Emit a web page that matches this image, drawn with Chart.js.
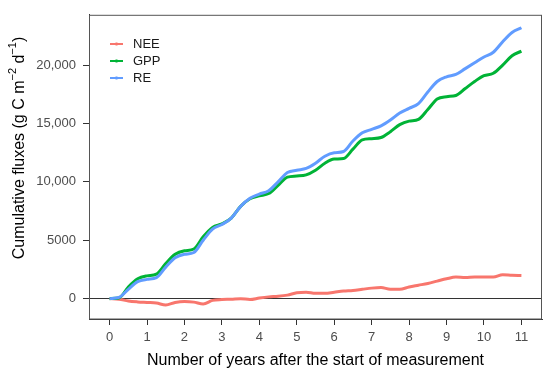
<!DOCTYPE html>
<html>
<head>
<meta charset="utf-8">
<script src="https://cdn.jsdelivr.net/npm/chart.js@4.4.1/dist/chart.umd.min.js"></script>
<style>
  html, body { margin: 0; padding: 0; background: #fff; }
  #wrap { width: 550px; height: 374px; position: relative; }
</style>
</head>
<body>
<div id="wrap"><canvas id="chart"></canvas></div>
<script>
const years = [
  0, 0.25, 0.5, 0.75, 1, 1.25, 1.5, 1.75, 2, 2.25, 2.5, 2.75, 3, 3.25, 3.5, 3.75,
  4, 4.25, 4.5, 4.75, 5, 5.25, 5.5, 5.75, 6, 6.25, 6.5, 6.75, 7, 7.25, 7.5, 7.75,
  8, 8.25, 8.5, 8.75, 9, 9.25, 9.5, 9.75, 10, 10.25, 10.5, 10.75, 11,
];

const neeValues = [
  0, -50, -200, -280, -330, -380, -550, -330, -250, -300, -450, -150, -80, -50, 0, -80,
  50, 150, 200, 300, 500, 550, 450, 450, 550, 650, 700, 800, 900, 950, 800, 800,
  1000, 1150, 1300, 1500, 1700, 1850, 1800, 1850, 1850, 1850, 2050, 2000, 1980,
];

const gppValues = [
  0, 50, 1000, 1700, 1950, 2100, 3000, 3800, 4100, 4250, 5300, 6100, 6400, 6900, 7900, 8550,
  8800, 9000, 9700, 10400, 10500, 10600, 11000, 11600, 11950, 12000, 12800, 13600, 13700, 13800, 14300, 14900,
  15200, 15350, 16200, 17100, 17300, 17400, 18000, 18600, 19100, 19300, 20000, 20800, 21200,
];

const reValues = [
  0, 100, 800, 1450, 1650, 1800, 2700, 3500, 3800, 3950, 5000, 5950, 6350, 6900, 7900, 8600,
  8950, 9250, 10000, 10800, 11000, 11150, 11600, 12200, 12500, 12600, 13500, 14200, 14500, 14800, 15300, 15900,
  16300, 16700, 17700, 18600, 19000, 19200, 19700, 20200, 20700, 21100, 22000, 22800, 23200,
];

const seriesNames = ["NEE", "GPP", "RE"];
const seriesColors = ["#F8766D", "#00B336", "#619CFF"];

const xTicks = [0, 1, 2, 3, 4, 5, 6, 7, 8, 9, 10, 11];
const yTicks = [0, 5000, 10000, 15000, 20000];
const yTickLabels = ["0", "5000", "10,000", "15,000", "20,000"];

const FONT = "Arial, 'Liberation Sans', Helvetica, sans-serif";

function toPoints(values) {
  return values.map((v, i) => ({ x: years[i], y: v }));
}

// Legend drawn inside the plot, top-left, like the ggplot key
const insideLegend = {
  id: "insideLegend",
  afterDraw(chart) {
    const { ctx } = chart;
    ctx.save();
    seriesNames.forEach((name, i) => {
      const y = 44 + i * 17;
      ctx.strokeStyle = seriesColors[i];
      ctx.lineWidth = 2;
      ctx.beginPath();
      ctx.moveTo(110, y);
      ctx.lineTo(123, y);
      ctx.moveTo(116.5, y - 1.5);
      ctx.lineTo(116.5, y + 1.5);
      ctx.stroke();
      ctx.fillStyle = "#1a1a1a";
      ctx.font = `13px ${FONT}`;
      ctx.textAlign = "left";
      ctx.textBaseline = "middle";
      ctx.fillText(name, 133, y + 0.5);
    });
    ctx.restore();
  },
};

// Box around the panel plus the y title with superscripts
const frameAndTitle = {
  id: "frameAndTitle",
  afterDraw(chart) {
    const { ctx, chartArea: a } = chart;
    ctx.save();
    ctx.strokeStyle = "#555";
    ctx.lineWidth = 1;
    ctx.strokeRect(a.left + 0.5, a.top + 0.5, a.right - a.left - 1, a.bottom - a.top - 0.5);

    const parts = [
      { t: "Cumulative fluxes (g C m", sup: false },
      { t: "\u22122", sup: true },
      { t: " d", sup: false },
      { t: "\u22121", sup: true },
      { t: ")", sup: false },
    ];
    const big = `16px ${FONT}`;
    const small = `11px ${FONT}`;
    let total = 0;
    parts.forEach((p) => {
      ctx.font = p.sup ? small : big;
      p.w = ctx.measureText(p.t).width;
      total += p.w;
    });
    ctx.translate(20, 148);
    ctx.rotate(-Math.PI / 2);
    ctx.fillStyle = "#000";
    ctx.textBaseline = "middle";
    ctx.textAlign = "left";
    let x = -total / 2;
    parts.forEach((p) => {
      ctx.font = p.sup ? small : big;
      ctx.fillText(p.t, x, p.sup ? -7 : 0);
      x += p.w;
    });
    ctx.restore();
  },
};

const datasets = [neeValues, gppValues, reValues].map((values, i) => ({
  label: seriesNames[i],
  data: toPoints(values),
  borderColor: seriesColors[i],
  backgroundColor: seriesColors[i],
  borderWidth: 3,
  pointRadius: 0,
  cubicInterpolationMode: "monotone",
  fill: false,
  order: 2 - i,
}));

new Chart(document.getElementById("chart"), {
  type: "line",
  data: { datasets },
  plugins: [insideLegend, frameAndTitle],
  options: {
    responsive: true,
    maintainAspectRatio: false,
    animation: false,
    events: [],
    layout: { padding: { top: 10, right: 8, left: 0, bottom: 0 } },
    plugins: {
      legend: { display: false },
      tooltip: { enabled: false },
    },
    scales: {
      x: {
        type: "linear",
        min: -0.55,
        max: 11.55,
        afterBuildTicks(scale) {
          scale.ticks = xTicks.map((v) => ({ value: v }));
        },
        afterFit(scale) {
          scale.height = 55;
        },
        border: { display: true, color: "#333", width: 1 },
        grid: { drawOnChartArea: false, drawTicks: true, tickLength: 6, tickColor: "#333" },
        ticks: {
          color: "#4d4d4d",
          font: { family: FONT, size: 13 },
          padding: 5,
          maxRotation: 0,
          autoSkip: false,
          callback: (v) => String(v),
        },
        title: {
          display: true,
          text: "Number of years after the start of measurement",
          color: "#000",
          font: { family: FONT, size: 16 },
          padding: { top: 0, bottom: 4 },
        },
      },
      y: {
        type: "linear",
        min: -1745,
        max: 24310,
        afterBuildTicks(scale) {
          scale.ticks = yTicks.map((v) => ({ value: v }));
        },
        afterFit(scale) {
          scale.width = 89;
        },
        border: { display: true, color: "#333", width: 1 },
        grid: {
          drawTicks: true,
          tickLength: 6,
          tickColor: "#333",
          lineWidth: 1,
          color: (c) => (c.tick && c.tick.value === 0 ? "#333" : "rgba(0,0,0,0)"),
        },
        ticks: {
          color: "#4d4d4d",
          font: { family: FONT, size: 13 },
          padding: 7,
          autoSkip: false,
          callback: (v) => yTickLabels[yTicks.indexOf(v)] ?? "",
        },
      },
    },
  },
});
</script>
</body>
</html>
